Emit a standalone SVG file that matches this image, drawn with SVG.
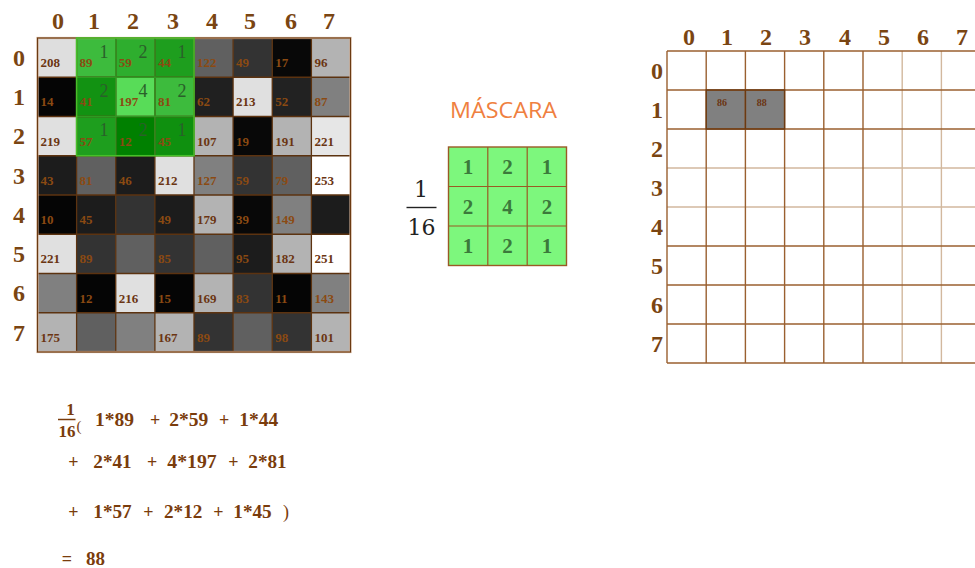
<svg xmlns="http://www.w3.org/2000/svg" width="975" height="568" viewBox="0 0 975 568">
<style>
.hdr{font-family:"Liberation Serif",serif;font-weight:bold;font-size:24px;fill:#7a4512;text-anchor:middle}
.num{font-family:"Liberation Serif",serif;font-weight:bold;font-size:13px;fill:#8b4a12}
.numd{font-family:"Liberation Serif",serif;font-weight:bold;font-size:13px;fill:#6b3512}
.w{font-family:"Liberation Serif",serif;font-size:18px;fill:#2a602a;text-anchor:middle}
.mw{font-family:"Liberation Serif",serif;font-weight:bold;font-size:21px;fill:#3b7a3b;text-anchor:middle}
.f{font-family:"Liberation Serif",serif;font-weight:bold;font-size:18px;fill:#7a3c0c}
.gl{stroke:#5c3310;stroke-width:1.3;fill:none}
.rl{stroke:#9a6030;stroke-width:1.4;fill:none}
.rll{stroke:#d2b89e;stroke-width:1.4;fill:none}
</style>
<rect width="975" height="568" fill="#ffffff"/>

<g id="left-headers">
<text class="hdr" x="58" y="29">0</text>
<text class="hdr" x="94" y="29">1</text>
<text class="hdr" x="133" y="29">2</text>
<text class="hdr" x="173" y="29">3</text>
<text class="hdr" x="212" y="29">4</text>
<text class="hdr" x="250" y="29">5</text>
<text class="hdr" x="291" y="29">6</text>
<text class="hdr" x="329" y="29">7</text>
<text class="hdr" x="19" y="65.5">0</text>
<text class="hdr" x="19" y="105">1</text>
<text class="hdr" x="19" y="144">2</text>
<text class="hdr" x="19" y="183.5">3</text>
<text class="hdr" x="19" y="222.5">4</text>
<text class="hdr" x="19" y="262">5</text>
<text class="hdr" x="19" y="301">6</text>
<text class="hdr" x="19" y="340.5">7</text>
</g>

<g id="image-grid">
<g id="cells">
<rect x="37.5" y="38" width="39.2" height="39.3" fill="#dedede"/>
<rect x="76.6" y="38" width="39.2" height="39.3" fill="#3dbb3d"/>
<rect x="115.75" y="38" width="39.2" height="39.3" fill="#2eae2e"/>
<rect x="154.9" y="38" width="39.2" height="39.3" fill="#1e9e1e"/>
<rect x="194" y="38" width="39.2" height="39.3" fill="#606060"/>
<rect x="233.1" y="38" width="39.2" height="39.3" fill="#333333"/>
<rect x="272.25" y="38" width="39.2" height="39.3" fill="#080808"/>
<rect x="311.4" y="38" width="39.2" height="39.3" fill="#b3b3b3"/>

<rect x="37.5" y="77.25" width="39.2" height="39.3" fill="#050505"/>
<rect x="76.6" y="77.25" width="39.2" height="39.3" fill="#129212"/>
<rect x="115.75" y="77.25" width="39.2" height="39.3" fill="#58dc58"/>
<rect x="154.9" y="77.25" width="39.2" height="39.3" fill="#3dbb3d"/>
<rect x="194" y="77.25" width="39.2" height="39.3" fill="#202020"/>
<rect x="233.1" y="77.25" width="39.2" height="39.3" fill="#e0e0e0"/>
<rect x="272.25" y="77.25" width="39.2" height="39.3" fill="#222222"/>
<rect x="311.4" y="77.25" width="39.2" height="39.3" fill="#808080"/>

<rect x="37.5" y="116.5" width="39.2" height="39.3" fill="#e0e0e0"/>
<rect x="76.6" y="116.5" width="39.2" height="39.3" fill="#1e9e1e"/>
<rect x="115.75" y="116.5" width="39.2" height="39.3" fill="#008000"/>
<rect x="154.9" y="116.5" width="39.2" height="39.3" fill="#0f900f"/>
<rect x="194" y="116.5" width="39.2" height="39.3" fill="#b3b3b3"/>
<rect x="233.1" y="116.5" width="39.2" height="39.3" fill="#080808"/>
<rect x="272.25" y="116.5" width="39.2" height="39.3" fill="#b3b3b3"/>
<rect x="311.4" y="116.5" width="39.2" height="39.3" fill="#e6e6e6"/>

<rect x="37.5" y="155.75" width="39.2" height="39.3" fill="#1c1c1c"/>
<rect x="76.6" y="155.75" width="39.2" height="39.3" fill="#606060"/>
<rect x="115.75" y="155.75" width="39.2" height="39.3" fill="#1c1c1c"/>
<rect x="154.9" y="155.75" width="39.2" height="39.3" fill="#e0e0e0"/>
<rect x="194" y="155.75" width="39.2" height="39.3" fill="#808080"/>
<rect x="233.1" y="155.75" width="39.2" height="39.3" fill="#333333"/>
<rect x="272.25" y="155.75" width="39.2" height="39.3" fill="#606060"/>
<rect x="311.4" y="155.75" width="39.2" height="39.3" fill="#ffffff"/>

<rect x="37.5" y="195" width="39.2" height="39.3" fill="#050505"/>
<rect x="76.6" y="195" width="39.2" height="39.3" fill="#1c1c1c"/>
<rect x="115.75" y="195" width="39.2" height="39.3" fill="#333333"/>
<rect x="154.9" y="195" width="39.2" height="39.3" fill="#1c1c1c"/>
<rect x="194" y="195" width="39.2" height="39.3" fill="#b3b3b3"/>
<rect x="233.1" y="195" width="39.2" height="39.3" fill="#080808"/>
<rect x="272.25" y="195" width="39.2" height="39.3" fill="#808080"/>
<rect x="311.4" y="195" width="39.2" height="39.3" fill="#1c1c1c"/>

<rect x="37.5" y="234.25" width="39.2" height="39.3" fill="#e0e0e0"/>
<rect x="76.6" y="234.25" width="39.2" height="39.3" fill="#333333"/>
<rect x="115.75" y="234.25" width="39.2" height="39.3" fill="#606060"/>
<rect x="154.9" y="234.25" width="39.2" height="39.3" fill="#333333"/>
<rect x="194" y="234.25" width="39.2" height="39.3" fill="#606060"/>
<rect x="233.1" y="234.25" width="39.2" height="39.3" fill="#1c1c1c"/>
<rect x="272.25" y="234.25" width="39.2" height="39.3" fill="#b3b3b3"/>
<rect x="311.4" y="234.25" width="39.2" height="39.3" fill="#ffffff"/>

<rect x="37.5" y="273.5" width="39.2" height="39.3" fill="#808080"/>
<rect x="76.6" y="273.5" width="39.2" height="39.3" fill="#050505"/>
<rect x="115.75" y="273.5" width="39.2" height="39.3" fill="#e0e0e0"/>
<rect x="154.9" y="273.5" width="39.2" height="39.3" fill="#050505"/>
<rect x="194" y="273.5" width="39.2" height="39.3" fill="#b3b3b3"/>
<rect x="233.1" y="273.5" width="39.2" height="39.3" fill="#333333"/>
<rect x="272.25" y="273.5" width="39.2" height="39.3" fill="#050505"/>
<rect x="311.4" y="273.5" width="39.2" height="39.3" fill="#808080"/>

<rect x="37.5" y="312.75" width="39.2" height="39.3" fill="#b3b3b3"/>
<rect x="76.6" y="312.75" width="39.2" height="39.3" fill="#606060"/>
<rect x="115.75" y="312.75" width="39.2" height="39.3" fill="#808080"/>
<rect x="154.9" y="312.75" width="39.2" height="39.3" fill="#b3b3b3"/>
<rect x="194" y="312.75" width="39.2" height="39.3" fill="#333333"/>
<rect x="233.1" y="312.75" width="39.2" height="39.3" fill="#606060"/>
<rect x="272.25" y="312.75" width="39.2" height="39.3" fill="#333333"/>
<rect x="311.4" y="312.75" width="39.2" height="39.3" fill="#b3b3b3"/>
</g>

<g id="grid-lines">
<path class="gl" d="M76.6 38V352M115.75 38V352M154.9 38V352M194 38V352M233.1 38V352M272.25 38V352M311.4 38V352M37.5 77.25H350.5M37.5 116.5H350.5M37.5 155.75H350.5M37.5 195H350.5M37.5 234.25H350.5M37.5 273.5H350.5M37.5 312.75H350.5"/>
<rect x="37.5" y="38" width="313" height="314" fill="none" stroke="#c9a68a" stroke-width="2.2"/>
<rect x="37.5" y="38" width="313" height="314" fill="none" stroke="#6b3a12" stroke-width="1"/>
<path d="M115.75 38V155.75M154.9 38V155.75M76.6 77.25H194M76.6 116.5H194" stroke="#2f9a22" stroke-width="1.3" fill="none"/>
<rect x="76.6" y="38" width="117.4" height="117.75" fill="none" stroke="#45c02a" stroke-width="1.6"/>
</g>

<g id="values">
<text class="numd" x="40.5" y="67">208</text>
<text class="num" x="79.6" y="67">89</text>
<text class="num" x="118.75" y="67">59</text>
<text class="num" x="157.9" y="67">44</text>
<text class="num" x="197" y="67">122</text>
<text class="num" x="236.1" y="67">49</text>
<text class="num" x="275.25" y="67">17</text>
<text class="numd" x="314.4" y="67">96</text>

<text class="num" x="40.5" y="106.25">14</text>
<text class="num" x="79.6" y="106.25">41</text>
<text class="num" x="118.75" y="106.25">197</text>
<text class="num" x="157.9" y="106.25">81</text>
<text class="num" x="197" y="106.25">62</text>
<text class="numd" x="236.1" y="106.25">213</text>
<text class="num" x="275.25" y="106.25">52</text>
<text class="num" x="314.4" y="106.25">87</text>

<text class="numd" x="40.5" y="145.5">219</text>
<text class="num" x="79.6" y="145.5">57</text>
<text class="num" x="118.75" y="145.5">12</text>
<text class="num" x="157.9" y="145.5">45</text>
<text class="numd" x="197" y="145.5">107</text>
<text class="num" x="236.1" y="145.5">19</text>
<text class="numd" x="275.25" y="145.5">191</text>
<text class="numd" x="314.4" y="145.5">221</text>

<text class="num" x="40.5" y="184.75">43</text>
<text class="num" x="79.6" y="184.75">81</text>
<text class="num" x="118.75" y="184.75">46</text>
<text class="numd" x="157.9" y="184.75">212</text>
<text class="num" x="197" y="184.75">127</text>
<text class="num" x="236.1" y="184.75">59</text>
<text class="num" x="275.25" y="184.75">79</text>
<text class="numd" x="314.4" y="184.75">253</text>

<text class="num" x="40.5" y="224">10</text>
<text class="num" x="79.6" y="224">45</text>
<text class="num" x="157.9" y="224">49</text>
<text class="numd" x="197" y="224">179</text>
<text class="num" x="236.1" y="224">39</text>
<text class="num" x="275.25" y="224">149</text>

<text class="numd" x="40.5" y="263.25">221</text>
<text class="num" x="79.6" y="263.25">89</text>
<text class="num" x="157.9" y="263.25">85</text>
<text class="num" x="236.1" y="263.25">95</text>
<text class="numd" x="275.25" y="263.25">182</text>
<text class="numd" x="314.4" y="263.25">251</text>

<text class="num" x="79.6" y="302.5">12</text>
<text class="numd" x="118.75" y="302.5">216</text>
<text class="num" x="157.9" y="302.5">15</text>
<text class="numd" x="197" y="302.5">169</text>
<text class="num" x="236.1" y="302.5">83</text>
<text class="num" x="275.25" y="302.5">11</text>
<text class="num" x="314.4" y="302.5">143</text>

<text class="numd" x="40.5" y="341.75">175</text>
<text class="numd" x="157.9" y="341.75">167</text>
<text class="num" x="197" y="341.75">89</text>
<text class="num" x="275.25" y="341.75">98</text>
<text class="numd" x="314.4" y="341.75">101</text>
</g>

<g id="weights">
<text class="w" x="104" y="57.5">1</text>
<text class="w" x="143" y="57.5">2</text>
<text class="w" x="182" y="57.5">1</text>
<text class="w" x="104" y="96.5">2</text>
<text class="w" x="143" y="96.5">4</text>
<text class="w" x="182" y="96.5">2</text>
<text class="w" x="104" y="136">1</text>
<text class="w" x="143" y="136">2</text>
<text class="w" x="182" y="136">1</text>
</g>
</g>

<g id="mask">
<text x="450" y="117.5" textLength="107" lengthAdjust="spacingAndGlyphs" font-family="'Open Sans','Liberation Sans',sans-serif" font-size="21" fill="#ef8040">MÁSCARA</text>
<g id="fraction" font-family="'DejaVu Serif','Liberation Serif',serif" fill="#222222" text-anchor="middle">
<text x="421" y="196.5" font-size="22">1</text>
<line x1="406.5" y1="207.5" x2="436.5" y2="207.5" stroke="#222222" stroke-width="1.4"/>
<text x="421.5" y="235" font-size="22">16</text>
</g>
<rect x="448.5" y="147" width="118" height="118.5" fill="#7df77d"/>
<path d="M487.8 147V265.5M527.2 147V265.5M448.5 186.5H566.5M448.5 226H566.5" stroke="#9a5a25" stroke-width="1.2" fill="none"/>
<rect x="448.5" y="147" width="118" height="118.5" fill="none" stroke="#9a5a25" stroke-width="1.4"/>
<text class="mw" x="468" y="174">1</text>
<text class="mw" x="507.5" y="174">2</text>
<text class="mw" x="547" y="174">1</text>
<text class="mw" x="468" y="213.5">2</text>
<text class="mw" x="507.5" y="213.5">4</text>
<text class="mw" x="547" y="213.5">2</text>
<text class="mw" x="468" y="253">1</text>
<text class="mw" x="507.5" y="253">2</text>
<text class="mw" x="547" y="253">1</text>
</g>

<g id="result-grid">
<g id="right-headers">
<text class="hdr" x="689" y="45">0</text>
<text class="hdr" x="727" y="45">1</text>
<text class="hdr" x="766" y="45">2</text>
<text class="hdr" x="805" y="45">3</text>
<text class="hdr" x="845" y="45">4</text>
<text class="hdr" x="884" y="45">5</text>
<text class="hdr" x="923" y="45">6</text>
<text class="hdr" x="962" y="45">7</text>
<text class="hdr" x="657" y="78.5">0</text>
<text class="hdr" x="657" y="118">1</text>
<text class="hdr" x="657" y="157">2</text>
<text class="hdr" x="657" y="196">3</text>
<text class="hdr" x="657" y="235">4</text>
<text class="hdr" x="657" y="274">5</text>
<text class="hdr" x="657" y="313">6</text>
<text class="hdr" x="657" y="352">7</text>
</g>
<rect x="706.2" y="90" width="39.2" height="39" fill="#808080"/>
<rect x="745.4" y="90" width="39.2" height="39" fill="#808080"/>
<path class="rll" d="M667 168H980M667 207H980M902.2 51V363M941.4 51V363"/>
<path class="rl" d="M667 51H980M667 90H980M667 129H980M667 246H980M667 285H980M667 324H980M667 363H980M667 51V363M706.2 51V363M745.4 51V363M784.6 51V363M823.8 51V363M863 51V363"/>
<path d="M706.2 90H784.6V129H706.2ZM745.4 90V129" stroke="#6b3a12" stroke-width="1.4" fill="none"/>
<text x="722" y="106" font-family="'Liberation Serif',serif" font-weight="bold" font-size="10" fill="#6b3512" text-anchor="middle">86</text>
<text x="761.7" y="106" font-family="'Liberation Serif',serif" font-weight="bold" font-size="10" fill="#6b3512" text-anchor="middle">88</text>
</g>

<g id="formula">
<text x="70.5" y="415" font-family="'Liberation Serif',serif" font-weight="bold" font-size="17" fill="#7a3c0c" text-anchor="middle">1</text>
<line x1="58" y1="419.5" x2="75.5" y2="419.5" stroke="#7a3c0c" stroke-width="1.5"/>
<text x="67" y="437" font-family="'Liberation Serif',serif" font-weight="bold" font-size="17" fill="#7a3c0c" text-anchor="middle">16</text>
<text x="76.5" y="431" font-family="'Liberation Serif',serif" font-size="15" fill="#7a3c0c">(</text>

<text class="f" x="95" y="426" textLength="39" lengthAdjust="spacingAndGlyphs">1*89</text>
<text class="f" x="150" y="426">+</text>
<text class="f" x="169.3" y="426" textLength="39" lengthAdjust="spacingAndGlyphs">2*59</text>
<text class="f" x="219" y="426">+</text>
<text class="f" x="239.3" y="426" textLength="39" lengthAdjust="spacingAndGlyphs">1*44</text>

<text class="f" x="68.3" y="468.3">+</text>
<text class="f" x="93.3" y="468.3" textLength="38.4" lengthAdjust="spacingAndGlyphs">2*41</text>
<text class="f" x="147" y="468.3">+</text>
<text class="f" x="167.3" y="468.3" textLength="49.4" lengthAdjust="spacingAndGlyphs">4*197</text>
<text class="f" x="228.3" y="468.3">+</text>
<text class="f" x="248.3" y="468.3" textLength="38.4" lengthAdjust="spacingAndGlyphs">2*81</text>

<text class="f" x="68.3" y="518.3">+</text>
<text class="f" x="93.3" y="518.3" textLength="38.4" lengthAdjust="spacingAndGlyphs">1*57</text>
<text class="f" x="143.3" y="518.3">+</text>
<text class="f" x="164" y="518.3" textLength="38.3" lengthAdjust="spacingAndGlyphs">2*12</text>
<text class="f" x="213.3" y="518.3">+</text>
<text class="f" x="233.3" y="518.3" textLength="38.4" lengthAdjust="spacingAndGlyphs">1*45</text>
<text x="283" y="518.3" font-family="'Liberation Serif',serif" font-size="18" fill="#7a3c0c">)</text>

<text class="f" x="61.7" y="565">=</text>
<text class="f" x="86" y="565" textLength="19" lengthAdjust="spacingAndGlyphs">88</text>
</g>
</svg>
